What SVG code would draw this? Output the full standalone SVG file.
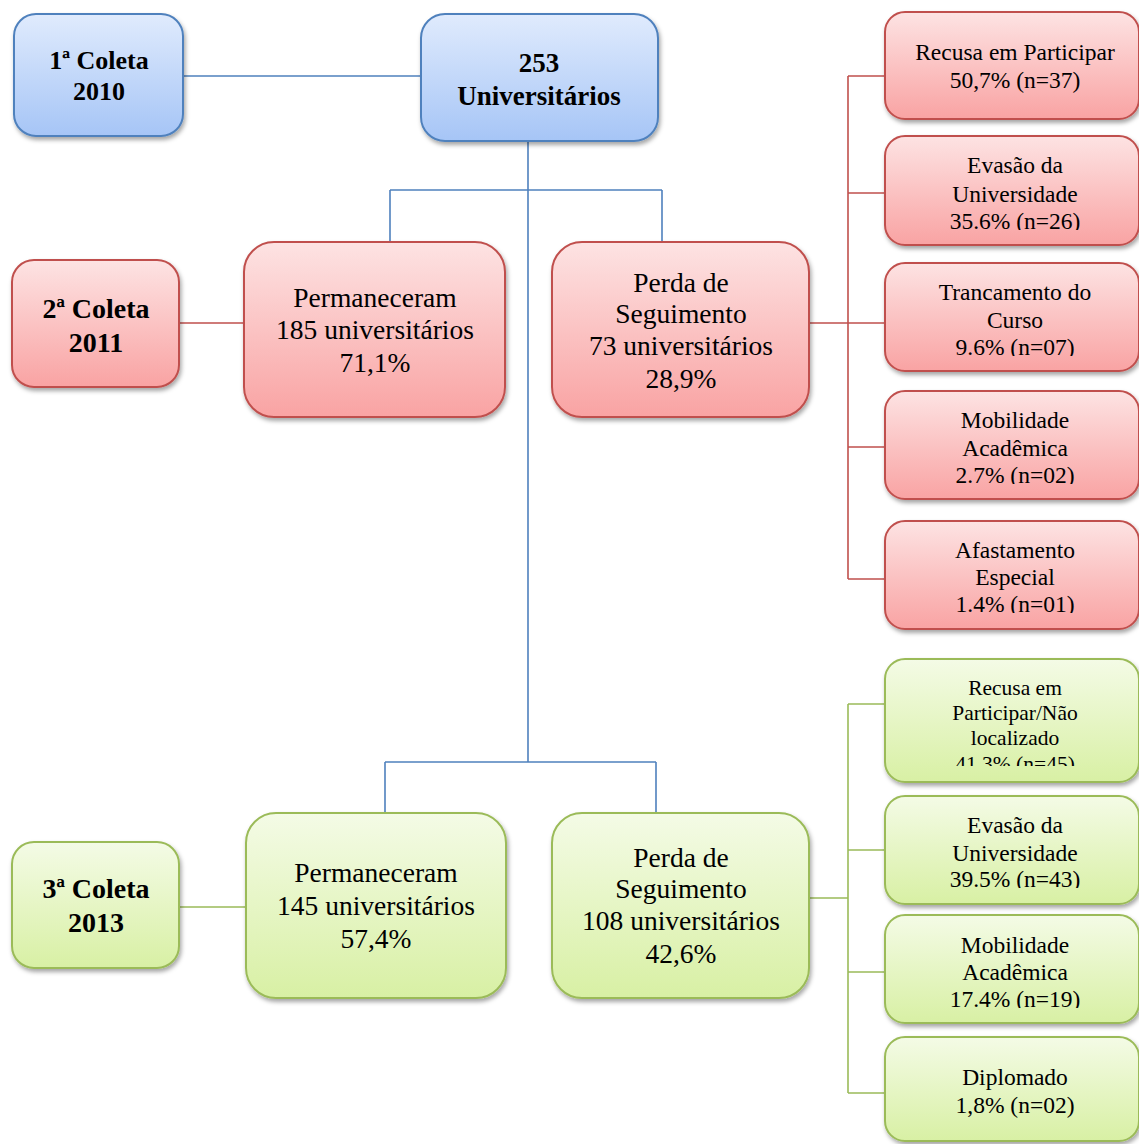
<svg xmlns="http://www.w3.org/2000/svg" width="1139" height="1144" viewBox="0 0 1139 1144">
<defs>
<linearGradient id="gBlue" x1="0" y1="0" x2="0" y2="1"><stop offset="0" stop-color="#e0ebfd"/><stop offset="1" stop-color="#a6c5f6"/></linearGradient>
<linearGradient id="gRed" x1="0" y1="0" x2="0" y2="1"><stop offset="0" stop-color="#fde3e3"/><stop offset="1" stop-color="#f9a3a3"/></linearGradient>
<linearGradient id="gGreen" x1="0" y1="0" x2="0" y2="1"><stop offset="0" stop-color="#f4fbe6"/><stop offset="1" stop-color="#d8f0a4"/></linearGradient>
<filter id="sh" x="-10%" y="-10%" width="125%" height="130%"><feDropShadow dx="1.5" dy="3" stdDeviation="2" flood-color="#000" flood-opacity="0.35"/></filter>
<clipPath id="cR2"><rect x="880" y="130" width="270" height="100"/></clipPath>
<clipPath id="cR3"><rect x="880" y="260" width="270" height="96"/></clipPath>
<clipPath id="cR4"><rect x="880" y="388" width="270" height="96"/></clipPath>
<clipPath id="cR5"><rect x="880" y="518" width="270" height="95"/></clipPath>
<clipPath id="cG1"><rect x="880" y="655" width="270" height="111"/></clipPath>
<clipPath id="cG2"><rect x="880" y="792" width="270" height="96"/></clipPath>
<clipPath id="cG3"><rect x="880" y="912" width="270" height="96"/></clipPath>
</defs>
<style>
.blue{fill:url(#gBlue);stroke:#4f81bd;stroke-width:2;filter:url(#sh)}
.red{fill:url(#gRed);stroke:#c0504d;stroke-width:2;filter:url(#sh)}
.green{fill:url(#gGreen);stroke:#9bbb59;stroke-width:2;filter:url(#sh)}
text{font-family:"Liberation Serif","Times New Roman",serif;fill:#000;text-anchor:middle}
.b{font-weight:bold;font-size:27px}
.m{font-size:27.5px}
.s{font-size:23.5px}
.xs{font-size:21.5px}
.cb{stroke:#4f81bd;stroke-width:1.6;fill:none}
.cr{stroke:#c0504d;stroke-width:1.6;fill:none}
.cg{stroke:#9bbb59;stroke-width:1.6;fill:none}
</style>
<g id="connectors">
<path class="cb" d="M183 76H421M528 141V762M390 190H662M390 190V242M662 190V242M385 762H656M385 762V813M656 762V813"/>
<path class="cr" d="M179 323H244M808 323H885M848 76V579M848 76H885M848 193H885M848 447H885M848 579H885"/>
<path class="cg" d="M179 907H246M808 898H848M848 704V1093M848 704H885M848 850H885M848 972H885M848 1093H885"/>
</g>
<g id="coleta1"><rect class="blue" x="14" y="14" width="169" height="122" rx="22"/><text class="b" x="99" y="69" style="font-size:26px">1ª Coleta</text><text class="b" x="99" y="100" style="font-size:26px">2010</text></g>
<g id="total"><rect class="blue" x="421" y="14" width="237" height="127" rx="24"/><text class="b" x="539" y="72">253</text><text class="b" x="539" y="105">Universitários</text></g>
<g id="coleta2"><rect class="red" x="12" y="260" width="167" height="127" rx="22"/><text class="b" x="96" y="318" style="font-size:28px">2ª Coleta</text><text class="b" x="96" y="352" style="font-size:28px">2011</text></g>
<g id="perm2011"><rect class="red" x="244" y="242" width="261" height="175" rx="30"/><text class="m" x="375" y="307">Permaneceram</text><text class="m" x="375" y="339">185 universitários</text><text class="m" x="375" y="372">71,1%</text></g>
<g id="perda2011"><rect class="red" x="552" y="242" width="257" height="175" rx="30"/><text class="m" x="681" y="292">Perda de</text><text class="m" x="681" y="323">Seguimento</text><text class="m" x="681" y="355">73 universitários</text><text class="m" x="681" y="388">28,9%</text></g>
<g id="r1"><rect class="red" x="885" y="12" width="254" height="107" rx="20"/><text class="s" x="1015" y="60">Recusa em Participar</text><text class="s" x="1015" y="88">50,7% (n=37)</text></g>
<g id="r2"><rect class="red" x="885" y="136" width="254" height="109" rx="20"/><g clip-path="url(#cR2)"><text class="s" x="1015" y="173">Evasão da</text><text class="s" x="1015" y="202">Universidade</text><text class="s" x="1015" y="229">35.6% (n=26)</text></g></g>
<g id="r3"><rect class="red" x="885" y="263" width="254" height="108" rx="20"/><g clip-path="url(#cR3)"><text class="s" x="1015" y="300">Trancamento do</text><text class="s" x="1015" y="328">Curso</text><text class="s" x="1015" y="355">9.6% (n=07)</text></g></g>
<g id="r4"><rect class="red" x="885" y="391" width="254" height="108" rx="20"/><g clip-path="url(#cR4)"><text class="s" x="1015" y="428">Mobilidade</text><text class="s" x="1015" y="456">Acadêmica</text><text class="s" x="1015" y="483">2.7% (n=02)</text></g></g>
<g id="r5"><rect class="red" x="885" y="521" width="254" height="108" rx="20"/><g clip-path="url(#cR5)"><text class="s" x="1015" y="558">Afastamento</text><text class="s" x="1015" y="585">Especial</text><text class="s" x="1015" y="612">1.4% (n=01)</text></g></g>
<g id="coleta3"><rect class="green" x="12" y="842" width="167" height="126" rx="22"/><text class="b" x="96" y="898" style="font-size:28px">3ª Coleta</text><text class="b" x="96" y="932" style="font-size:28px">2013</text></g>
<g id="perm2013"><rect class="green" x="246" y="813" width="260" height="185" rx="30"/><text class="m" x="376" y="882">Permaneceram</text><text class="m" x="376" y="915">145 universitários</text><text class="m" x="376" y="948">57,4%</text></g>
<g id="perda2013"><rect class="green" x="552" y="813" width="257" height="185" rx="30"/><text class="m" x="681" y="867">Perda de</text><text class="m" x="681" y="898">Seguimento</text><text class="m" x="681" y="930">108 universitários</text><text class="m" x="681" y="963">42,6%</text></g>
<g id="g1"><rect class="green" x="885" y="659" width="254" height="123" rx="20"/><g clip-path="url(#cG1)"><text class="xs" x="1015" y="695">Recusa em</text><text class="xs" x="1015" y="720">Participar/Não</text><text class="xs" x="1015" y="745">localizado</text><text class="xs" x="1015" y="771">41,3% (n=45)</text></g></g>
<g id="g2"><rect class="green" x="885" y="796" width="254" height="108" rx="20"/><g clip-path="url(#cG2)"><text class="s" x="1015" y="833">Evasão da</text><text class="s" x="1015" y="861">Universidade</text><text class="s" x="1015" y="887">39.5% (n=43)</text></g></g>
<g id="g3"><rect class="green" x="885" y="915" width="254" height="108" rx="20"/><g clip-path="url(#cG3)"><text class="s" x="1015" y="953">Mobilidade</text><text class="s" x="1015" y="980">Acadêmica</text><text class="s" x="1015" y="1007">17.4% (n=19)</text></g></g>
<g id="g4"><rect class="green" x="885" y="1037" width="254" height="104" rx="20"/><text class="s" x="1015" y="1085">Diplomado</text><text class="s" x="1015" y="1113">1,8% (n=02)</text></g>
</svg>
